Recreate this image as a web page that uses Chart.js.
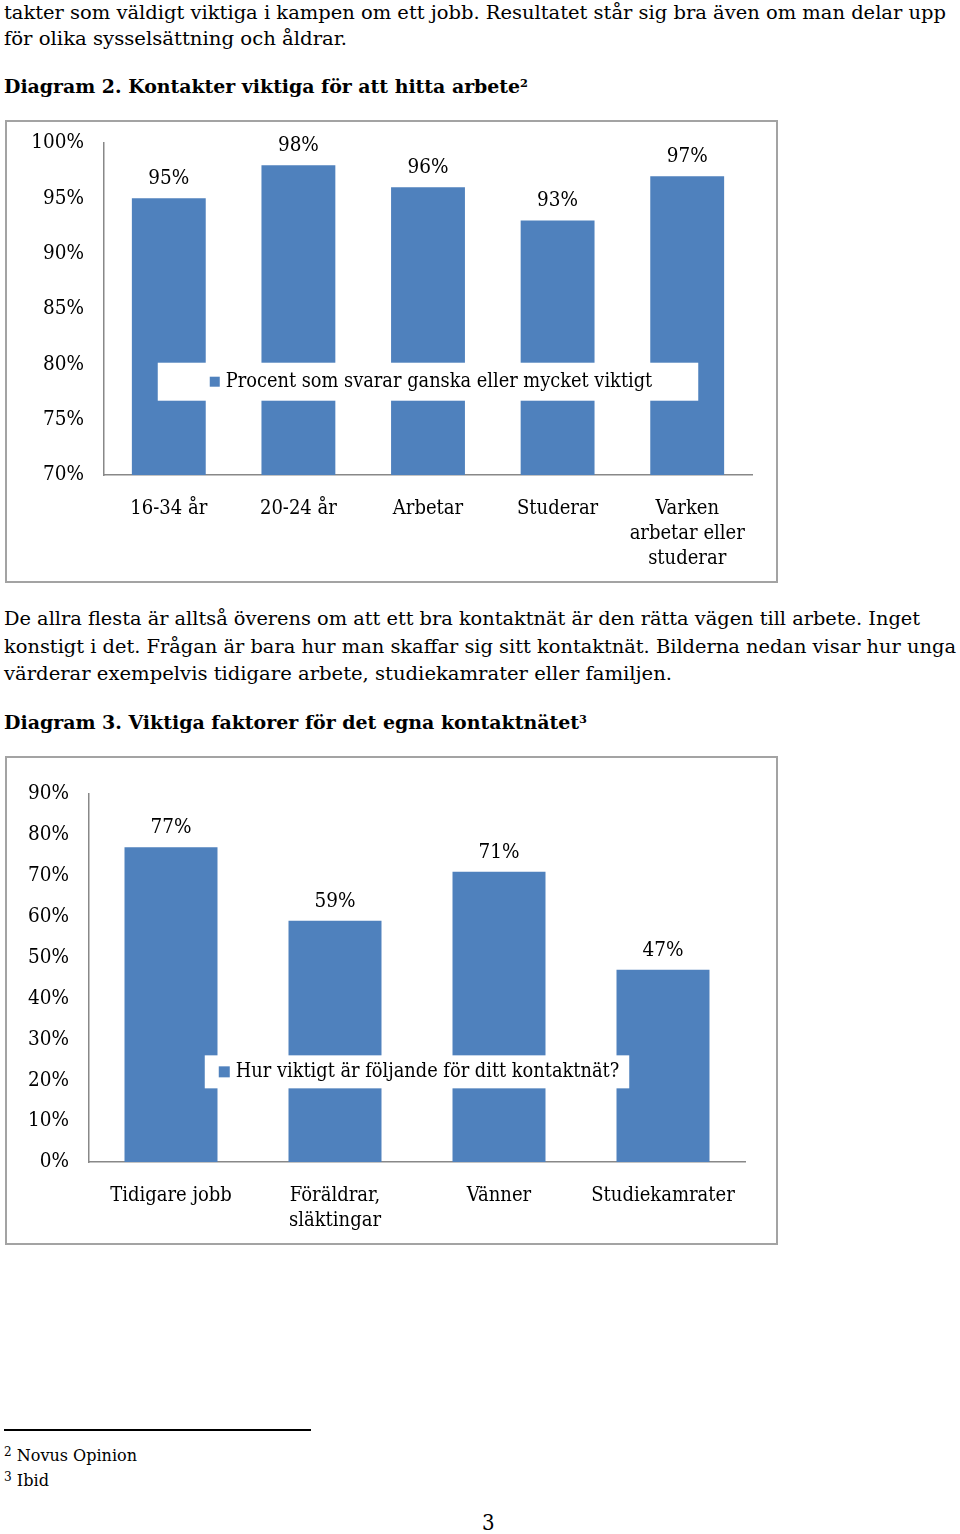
<!DOCTYPE html>
<html lang="sv">
<head>
<meta charset="UTF-8">
<title>Diagram 2 och 3</title>
<script src="https://cdn.jsdelivr.net/npm/chart.js"></script>
<style>
  body {
    margin: 0;
    background: #fff;
    width: 960px;
    height: 1534px;
    position: relative;
    overflow: hidden;
    font-family: 'DejaVu Serif Condensed', 'DejaVu Serif', serif;
    color: #000;
  }
  .line {
    position: absolute;
    left: 4px;
    white-space: nowrap;
    font-size: 19px;
    line-height: 19px;
    transform-origin: 0 0;
  }
  .bold { font-weight: bold; }
  sup { font-size: 60%; vertical-align: 0.55em; line-height: 0; }
  .fn sup { font-size: 75%; vertical-align: 0.4em; }
  .box { position: absolute; border: 2px solid #a3a3a3; box-sizing: border-box; }
  canvas { position: absolute; }
  .rule { position: absolute; left: 4px; top: 1429px; width: 307px; height: 2px; background: #000; }
</style>
</head>
<body>

<div class="line" style="top:3px" data-w="942">takter som väldigt viktiga i kampen om ett jobb. Resultatet står sig bra även om man delar upp</div>
<div class="line" style="top:29px" data-w="343">för olika sysselsättning och åldrar.</div>
<div class="line bold" style="top:77px" data-w="524">Diagram 2. Kontakter viktiga för att hitta arbete<sup>2</sup></div>

<div class="box" style="left:5px; top:120px; width:773px; height:463px"></div>
<canvas id="chart1" width="771" height="461" style="left:6px; top:121px"></canvas>

<div class="line" style="top:609px" data-w="916">De allra flesta är alltså överens om att ett bra kontaktnät är den rätta vägen till arbete. Inget</div>
<div class="line" style="top:637px" data-w="952">konstigt i det. Frågan är bara hur man skaffar sig sitt kontaktnät. Bilderna nedan visar hur unga</div>
<div class="line" style="top:664px" data-w="668">värderar exempelvis tidigare arbete, studiekamrater eller familjen.</div>
<div class="line bold" style="top:713px" data-w="583">Diagram 3. Viktiga faktorer för det egna kontaktnätet<sup>3</sup></div>

<div class="box" style="left:5px; top:756px; width:773px; height:489px"></div>
<canvas id="chart2" width="771" height="487" style="left:6px; top:757px"></canvas>

<div class="rule"></div>
<div class="line fn" style="top:1447px; font-size:17px; line-height:17px" data-w="133"><sup>2</sup> Novus Opinion</div>
<div class="line fn" style="top:1472px; font-size:17px; line-height:17px" data-w="45"><sup>3</sup> Ibid</div>
<div class="line" style="top:1512px; left:482px; font-size:22px; line-height:22px">3</div>

<script>
// Diagram 2
const categories1 = ['16-34 år', '20-24 år', 'Arbetar', 'Studerar', ['Varken', 'arbetar eller', 'studerar']];
const values1 = [95, 98, 96, 93, 97];
const series1 = 'Procent som svarar ganska eller mycket viktigt';
const yTicks1 = [70, 75, 80, 85, 90, 95, 100];

// Diagram 3
const categories2 = ['Tidigare jobb', ['Föräldrar,', 'släktingar'], 'Vänner', 'Studiekamrater'];
const values2 = [77, 59, 71, 47];
const series2 = 'Hur viktigt är följande för ditt kontaktnät?';
const yTicks2 = [0, 10, 20, 30, 40, 50, 60, 70, 80, 90];

const BLUE = '#4f81bd';
const AXIS = '#888888';
const FONT = "'DejaVu Serif Condensed', 'DejaVu Serif', serif";

Chart.defaults.font.family = FONT;
Chart.defaults.font.size = 20;
Chart.defaults.color = '#000';

// value above each bar
const valueLabels = {
    id: 'valueLabels',
    afterDatasetsDraw(chart, args, opts) {
        const ctx = chart.ctx;
        const meta = chart.getDatasetMeta(0);
        ctx.save();
        ctx.font = '20.5px ' + FONT;
        ctx.fillStyle = '#000';
        ctx.textAlign = 'center';
        ctx.textBaseline = 'alphabetic';
        meta.data.forEach((bar, i) => {
            ctx.fillText(chart.data.datasets[0].data[i] + '%', bar.x, bar.y - opts.offset);
        });
        ctx.restore();
    }
};

// white legend box sitting on top of the bars
const boxLegend = {
    id: 'boxLegend',
    afterDatasetsDraw(chart, args, opts) {
        const ctx = chart.ctx;
        const area = chart.chartArea;
        const text = chart.data.datasets[0].label;
        ctx.save();
        ctx.font = '19.8px ' + FONT;
        const tw = ctx.measureText(text).width;
        const contentW = opts.square + opts.gap + tw;
        const w = contentW + opts.padX * 2;
        const cx = (area.left + area.right) / 2;
        const cy = area.top + (area.bottom - area.top) * opts.frac;
        const x0 = cx - w / 2;
        ctx.fillStyle = '#fff';
        ctx.fillRect(x0, cy - opts.h / 2, w, opts.h);
        const sx = x0 + opts.padX + opts.shift;
        ctx.fillStyle = BLUE;
        ctx.fillRect(sx, cy - opts.square / 2, opts.square, opts.square);
        ctx.fillStyle = '#000';
        ctx.textBaseline = 'middle';
        ctx.textAlign = 'left';
        ctx.fillText(text, sx + opts.square + opts.gap, cy);
        ctx.restore();
    }
};

function makeChart(id, labels, values, label, ticks, o) {
    return new Chart(document.getElementById(id), {
        type: 'bar',
        data: {
            labels: labels,
            datasets: [{
                label: label,
                data: values,
                backgroundColor: BLUE,
                borderWidth: 0,
                categoryPercentage: 1,
                barPercentage: o.barPct
            }]
        },
        options: {
            responsive: false,
            animation: false,
            layout: { padding: { top: o.top, right: o.right, left: 0, bottom: 0 } },
            plugins: {
                legend: { display: false },
                tooltip: { enabled: false },
                valueLabels: { offset: 14 },
                boxLegend: o.legend
            },
            scales: {
                x: {
                    grid: { display: false, drawTicks: false },
                    border: { display: true, color: AXIS, width: 1.5 },
                    ticks: { padding: 21, maxRotation: 0, autoSkip: false, font: { size: 20, lineHeight: 1.25 } },
                    afterFit: s => { s.height = o.xH; }
                },
                y: {
                    min: ticks[0],
                    max: ticks[ticks.length - 1],
                    grid: { display: false, drawTicks: false },
                    border: { display: true, color: AXIS, width: 1.5 },
                    ticks: {
                        stepSize: ticks[1] - ticks[0],
                        padding: 20,
                        font: { size: 20.5 },
                        callback: v => v + '%'
                    },
                    afterFit: s => {
                        s.width = o.yW;
                        s.paddingTop = 0;
                        s.paddingBottom = 0;
                    }
                }
            }
        },
        plugins: [valueLabels, boxLegend]
    });
}

makeChart('chart1', categories1, values1, series1, yTicks1, {
    barPct: 0.57, top: 22, right: 25, xH: 107, yW: 98,
    legend: { frac: 0.719, h: 38, square: 10, gap: 6, padX: 49, shift: 3 }
});

makeChart('chart2', categories2, values2, series2, yTicks2, {
    barPct: 0.567, top: 37, right: 32, xH: 82, yW: 83,
    legend: { frac: 0.755, h: 33, square: 11, gap: 6, padX: 12, shift: 2 }
});

// squeeze page text lines to the widths in the scan
document.fonts.ready.then(() => {
    document.querySelectorAll('.line[data-w]').forEach(el => {
        const w = el.getBoundingClientRect().width;
        el.style.transform = 'scaleX(' + (Number(el.dataset.w) / w) + ')';
    });
});
</script>
</body>
</html>
